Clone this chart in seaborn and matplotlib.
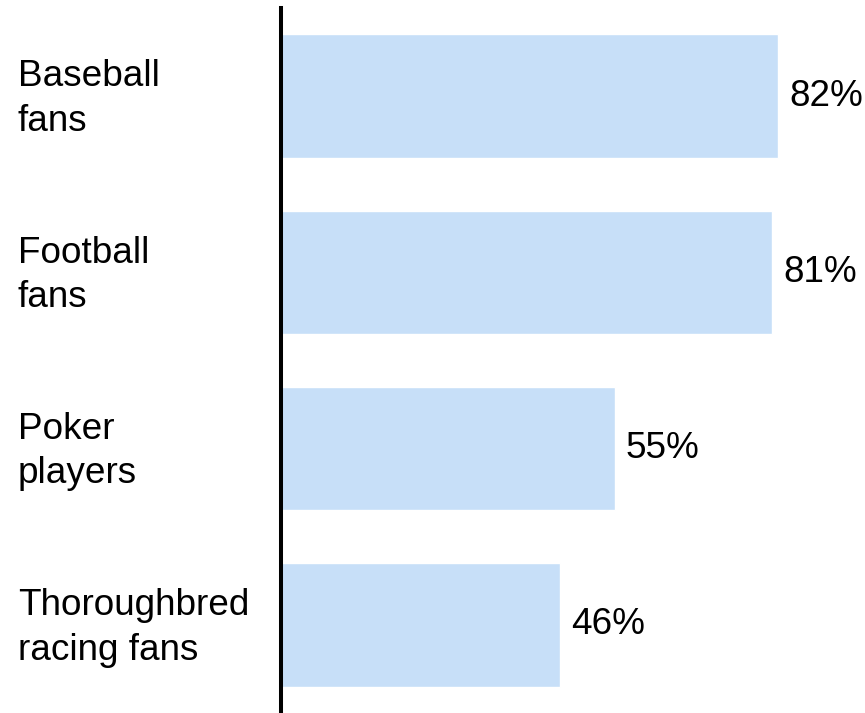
import matplotlib
matplotlib.use("Agg")
import matplotlib.pyplot as plt
import matplotlib.transforms as mtransforms
import seaborn as sns
import pandas as pd

groups = ["Baseball\nfans", "Football\nfans", "Poker\nplayers", "Thoroughbred\nracing fans"]
shares = [82, 81, 55, 46]

sns.set_theme(style="white")
plt.rcParams["font.family"] = ["Liberation Sans", "DejaVu Sans"]

df = pd.DataFrame({"group": groups, "share": shares})

fig = plt.figure(figsize=(8.65, 7.13), dpi=100)
ax = fig.add_axes([281 / 865, 0, 584 / 865, 705 / 713])

sns.barplot(data=df, x="share", y="group", orient="h", color="#c7dff8",
            saturation=1, width=0.7, ax=ax)

ax.set_xlim(0, 96.3)
ax.set_ylim(3.5, -0.5)
ax.set_xlabel("")
ax.set_ylabel("")
ax.set_xticks([])
ax.set_yticks([])

for side in ["top", "right", "bottom"]:
    ax.spines[side].set_visible(False)
ax.spines["left"].set_color("black")
ax.spines["left"].set_linewidth(2.9)

for container in ax.containers:
    ax.bar_label(container, labels=[f"{v}%" for v in shares], padding=8,
                 fontsize=26.6, color="black")

trans = mtransforms.blended_transform_factory(fig.transFigure, ax.transData)
trans = trans + mtransforms.ScaledTranslation(0, -3 / 100, fig.dpi_scale_trans)
for i, g in enumerate(groups):
    ax.text(18 / 865, i, g, transform=trans, ha="left", va="center",
            fontsize=26.6, color="black", linespacing=1.36)

fig.savefig("out.png", dpi=100)
